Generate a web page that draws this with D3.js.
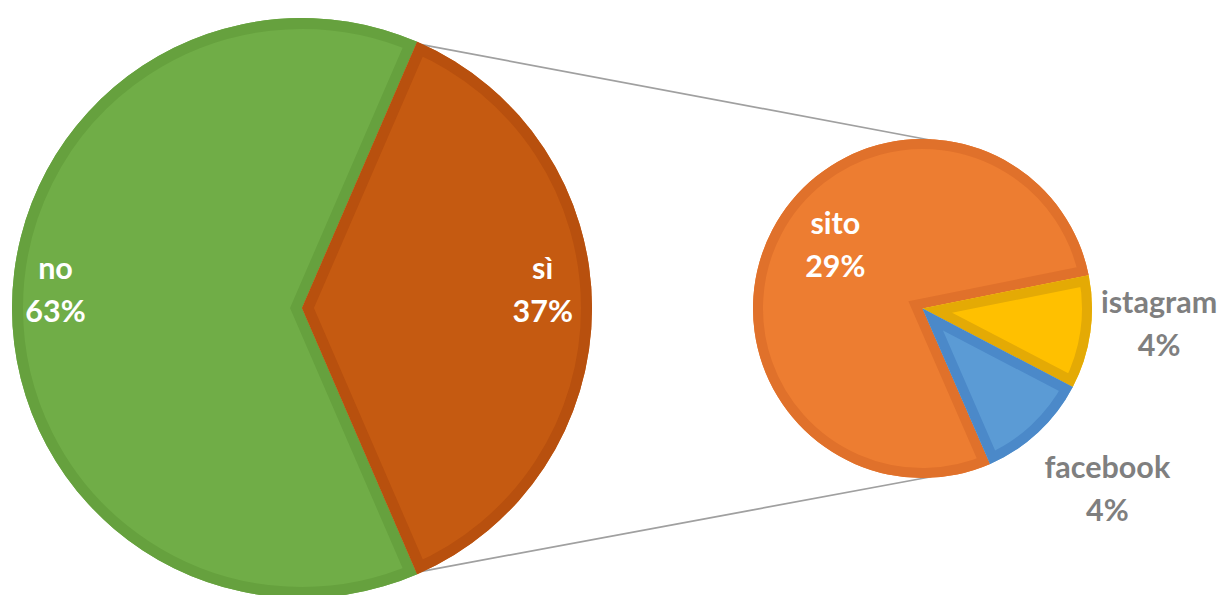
<!DOCTYPE html>
<html>
<head>
<meta charset="utf-8">
<script src="https://cdn.jsdelivr.net/npm/d3@7"></script>
<style>
  body { margin: 0; background: #fff; }
  text { font-family: Lato, "Open Sans", sans-serif; font-weight: 700; }
</style>
</head>
<body>
<div id="chart"></div>
<script>
// main pie
var mainCats = ['no', 'sì']
var mainVals = [63, 37]
// secondary pie (breakdown of "sì")
var subCats = ['sito', 'istagram', 'facebook']
var subVals = [29, 4, 4]

var width = 1223, height = 595
var deg = Math.PI / 180

var svg = d3.select('#chart').append('svg')
  .attr('width', width).attr('height', height)

var main = {cx: 302, cy: 308, r: 290, band: 11}
var sub = {cx: 922.5, cy: 308.5, r: 169.5, band: 10}

var fills = {no: '#70ad47', 'sì': '#c55a11', sito: '#ed7d31', istagram: '#ffc000', facebook: '#5b9bd5'}
var bands = {no: '#66a13e', 'sì': '#b8500e', sito: '#e0712b', istagram: '#e4aa05', facebook: '#4b89c9'}
// label distance from centre, as fraction of radius
var labelR = {no: 0.85, 'sì': 0.83, sito: 0.58, istagram: 1.41, facebook: 1.6}
var labelCol = {no: '#fff', 'sì': '#fff', sito: '#fff', istagram: '#7f7f7f', facebook: '#7f7f7f'}

var total = d3.sum(mainVals)
var mainPie = d3.pie().sort(null)
  .startAngle(156.6 * deg).endAngle(516.6 * deg)
var subPie = d3.pie().sort(null)
  .startAngle(156.5 * deg).endAngle(516.5 * deg)

var mainArcs = mainPie(mainVals).map(function(d, i){ d.name = mainCats[i]; d.pct = d.value / total; return d })
var subArcs = subPie(subVals).map(function(d, i){ d.name = subCats[i]; d.pct = d.value / total; return d })

function polar(c, a, rad){
  return [c.cx + rad * Math.sin(a), c.cy - rad * Math.cos(a)]
}

// connector lines from the "sì" slice to the secondary pie
var si = mainArcs[1]
var lines = [
  [polar(main, si.startAngle, main.r - 2), polar(sub, 3 * deg, sub.r - 1)],
  [polar(main, si.endAngle, main.r - 2), polar(sub, 177 * deg, sub.r - 1)]
]
svg.selectAll('line.conn').data(lines).enter().append('line')
  .attr('class', 'conn')
  .attr('x1', function(d){ return d[0][0] }).attr('y1', function(d){ return d[0][1] })
  .attr('x2', function(d){ return d[1][0] }).attr('y2', function(d){ return d[1][1] })
  .attr('stroke', '#a0a0a0').attr('stroke-width', 1.7)

var pct = d3.format('.0%')

function drawPie(c, arcs, id){
  var arc = d3.arc().innerRadius(0).outerRadius(c.r)
  var g = svg.append('g').attr('transform', 'translate(' + c.cx + ',' + c.cy + ')')

  var defs = svg.append('defs')
  defs.selectAll('clipPath').data(arcs).enter().append('clipPath')
    .attr('id', function(d, i){ return id + i })
    .append('path').attr('d', arc)

  var slice = g.selectAll('g.slice').data(arcs).enter().append('g').attr('class', 'slice')
  slice.append('path')
    .attr('d', arc)
    .attr('fill', function(d){ return fills[d.name] })
  // inner border, clipped to the slice itself
  slice.append('path')
    .attr('d', arc)
    .attr('fill', 'none')
    .attr('stroke', function(d){ return bands[d.name] })
    .attr('stroke-width', c.band * 2)
    .attr('stroke-linejoin', 'miter')
    .attr('clip-path', function(d, i){ return 'url(#' + id + i + ')' })

  var lab = g.selectAll('text.lab').data(arcs).enter().append('text')
    .attr('class', 'lab')
    .attr('text-anchor', 'middle')
    .attr('font-size', 30.5)
    .attr('fill', function(d){ return labelCol[d.name] })
    .attr('transform', function(d){
      var a = (d.startAngle + d.endAngle) / 2, rr = c.r * labelR[d.name]
      return 'translate(' + (rr * Math.sin(a)) + ',' + (-rr * Math.cos(a)) + ')'
    })
  lab.append('tspan').attr('x', 0).attr('y', -29).text(function(d){ return d.name })
  lab.append('tspan').attr('x', 0).attr('y', 14).text(function(d){ return pct(d.pct) })
}

drawPie(main, mainArcs, 'mclip')
drawPie(sub, subArcs, 'sclip')
</script>
</body>
</html>
